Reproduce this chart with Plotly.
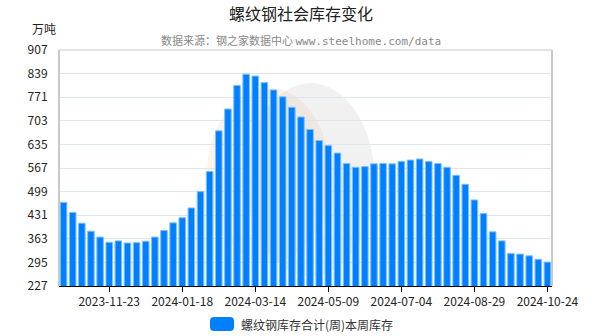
import plotly.graph_objects as go
import pandas as pd

dates = [d.strftime("%Y-%m-%d") for d in pd.date_range("2023-10-19", "2024-10-24", freq="7D")]
values = [468, 439, 408, 385, 368, 353, 357, 351, 352, 356, 368, 387, 409, 424, 452, 499,
          557, 674, 737, 805, 837, 832, 813, 792, 772, 742, 714, 678, 646, 632, 610, 580,
          569, 571, 579, 580, 579, 586, 590, 593, 586, 580, 569, 546, 520, 475, 436, 383,
          357, 321, 319, 314, 304, 296]
y_ticks = [227, 295, 363, 431, 499, 567, 635, 703, 771, 839, 907]
x_ticks = dates[5::8]
series_name = "螺纹钢库存合计(周)本周库存"
bar_color = "#0080FF"

fig = go.Figure()
fig.add_trace(go.Bar(
    x=dates, y=values, name=series_name,
    marker=dict(color=bar_color, line=dict(color="#7fbfff", width=1)),
    width=0.72, showlegend=False,
))

# plot area in pixels: x 59..552, y 50..286
def px_x(p):
    return (p - 59) / 493.0

def px_y(p):
    return (286 - p) / 236.0

lx0, lx1, ly0, ly1 = px_x(210), px_x(234), px_y(331), px_y(317)
r = 4
rx, ry = r / 493.0, r / 236.0
legend_path = (f"M {lx0+rx},{ly0} L {lx1-rx},{ly0} Q {lx1},{ly0} {lx1},{ly0+ry} "
               f"L {lx1},{ly1-ry} Q {lx1},{ly1} {lx1-rx},{ly1} L {lx0+rx},{ly1} "
               f"Q {lx0},{ly1} {lx0},{ly1-ry} L {lx0},{ly0+ry} Q {lx0},{ly0} {lx0+rx},{ly0} Z")

font_cn = "Microsoft YaHei, Noto Sans CJK SC, sans-serif"
fig.update_layout(
    width=600, height=336,
    margin=dict(l=59, r=48, t=50, b=50),
    paper_bgcolor="white", plot_bgcolor="white",
    font=dict(family=font_cn, size=12, color="#222"),
    showlegend=False,
    xaxis=dict(type="category", range=[-0.5, 53.5], tickvals=x_ticks, ticktext=x_ticks,
               ticks="outside", ticklen=5, tickcolor="#000", showgrid=False,
               showline=True, linecolor="#000", linewidth=1,
               tickfont=dict(size=12, color="#222"), tickangle=0),
    yaxis=dict(range=[227, 907], tickvals=y_ticks, showgrid=True, gridcolor="#dfe4ef",
               gridwidth=1, zeroline=False, showline=False,
               tickfont=dict(size=12, color="#222"), ticks="outside", ticklen=8,
               tickcolor="rgba(0,0,0,0)"),
    shapes=[
        dict(type="circle", xref="paper", yref="paper", x0=0.30, x1=0.55, y0=0.10, y1=0.84,
             fillcolor="rgba(240,190,150,0.18)", line=dict(width=0), layer="below"),
        dict(type="circle", xref="paper", yref="paper", x0=0.38, x1=0.64, y0=0.04, y1=0.86,
             fillcolor="rgba(190,190,190,0.22)", line=dict(width=0), layer="below"),
        dict(type="line", xref="paper", yref="paper", x0=0, x1=0, y0=0, y1=1,
             line=dict(color="#c8c8c8", width=2), layer="above"),
        dict(type="line", xref="paper", yref="paper", x0=1, x1=1, y0=0, y1=1,
             line=dict(color="#c8c8c8", width=2), layer="above"),
        dict(type="line", xref="paper", yref="paper", x0=0, x1=1, y0=1, y1=1,
             line=dict(color="#c8c8c8", width=1), layer="above"),
        dict(type="path", xref="paper", yref="paper", path=legend_path,
             fillcolor=bar_color, line=dict(width=0)),
    ],
    annotations=[
        dict(text="螺纹钢社会库存变化", xref="paper", yref="paper", x=0.49, y=1.0,
             yshift=37, xanchor="center", yanchor="middle", showarrow=False,
             font=dict(size=16, color="#222")),
        dict(text="数据来源：钢之家数据中心 <span style='font-family:DejaVu Sans Mono, monospace'>www.steelhome.com/data</span>",
             xref="paper", yref="paper", x=0.49, y=1.0, yshift=10, xanchor="center",
             yanchor="middle", showarrow=False, font=dict(size=11, color="#888")),
        dict(text="万吨", xref="paper", yref="paper", x=0, y=1.0, xshift=-15, yshift=22,
             xanchor="center", yanchor="middle", showarrow=False,
             font=dict(size=12, color="#222")),
        dict(text=series_name, xref="paper", yref="paper", x=px_x(239), y=px_y(324),
             xanchor="left", yanchor="middle", showarrow=False,
             font=dict(size=12, color="#333")),
    ],
)

fig.write_html("out.html")
